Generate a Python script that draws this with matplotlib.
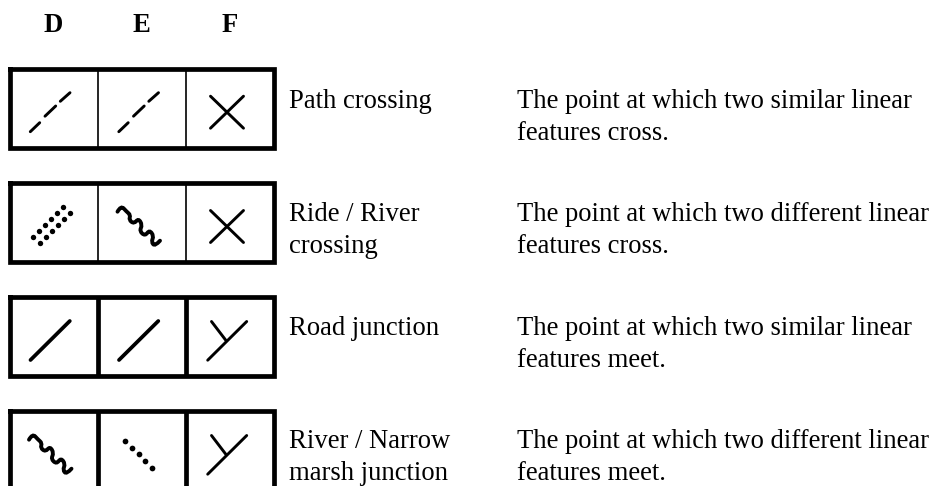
"""
plot.py
-------
Table of crossing / junction map symbols, drawn in pixel coordinates.
"""
import matplotlib
matplotlib.use("Agg")
import matplotlib.pyplot as plt
from matplotlib.path import Path
from matplotlib.patches import PathPatch

W, H = 935, 486
FONT = "Liberation Serif"
FONTSIZE = 19.2
LINE_GAP = 32.3

COLUMNS = ["D", "E", "F"]
COLUMN_X = [53, 141.7, 230]
NAMES = [["Path crossing"], ["Ride / River", "crossing"], ["Road junction"],
         ["River / Narrow", "marsh junction"]]
DESCRIPTIONS = [
    ["The point at which two similar linear", "features cross."],
    ["The point at which two different linear", "features cross."],
    ["The point at which two similar linear", "features meet."],
    ["The point at which two different linear", "features meet."],
]
SYMBOLS = [
    ["dash", "dash", "cross"],
    ["double_dots", "wave", "cross"],
    ["line", "line", "fork"],
    ["wave", "dots", "fork"],
]
ROW_TOPS = [66.7, 181, 295, 409]
BASELINES = [107.7, 221, 334.5, 448]
DIVIDERS = [[97.7, 185.7], [97.7, 185.7], [97.5, 186.3], [97.5, 186.3]]
DIVIDER_LW = [1.2, 1.2, 3.4, 3.4]
CELL_X = [50, 138.5, 227]

# all symbol shapes below are relative to the cell centre, in pixels
DASHES = [(-19.7, 19.5, -10.3, 10.5), (-5, 4, 5.7, -6.2), (10.3, -10.9, 20, -19.5)]
WAVE = [(-21, -14.8), (-17.5, -21), (-12, -15), (-8, -11.5), (-9.5, -6.5), (-4.5, -2.8),
        (0, -8), (3.8, -1.5), (1, 4.5), (6.5, 9.5), (11, 3.5), (15.3, 9.5), (12.8, 15.5),
        (16.5, 19.8), (21.5, 14.2)]
DOTS_X = [-13.5, -6.5, 0.5, 6.8, 13.8]
DOTS_Y = [-13.8, -6.8, -0.2, 6.5, 13.5]
DOUBLE_A_X = [-16.7, -10.7, -4.7, 1.3, 7.3, 13.3]
DOUBLE_A_Y = [10.2, 4.2, -1.8, -7.8, -13.5, -19.2]
DOUBLE_B_X = [-9.7, -3.7, 2, 8, 14, 19.7]
DOUBLE_B_Y = [16.5, 10.5, 4.5, -1.5, -7.5, -13.2]


def draw_line(ax, x0, y0, x1, y1, lw):
    ax.plot([x0, x1], [y0, y1], color="black", lw=lw, solid_capstyle="round")


def draw_symbol(ax, kind, cx, cy):
    if kind == "dash":
        for x0, y0, x1, y1 in DASHES:
            draw_line(ax, cx + x0, cy + y0, cx + x1, cy + y1, 2.1)
    elif kind == "line":
        draw_line(ax, cx - 19.5, cy + 19.5, cx + 19.8, cy - 19.5, 2.7)
    elif kind == "cross":
        draw_line(ax, cx - 16.5, cy - 16, cx + 16.5, cy + 16, 2.1)
        draw_line(ax, cx - 16.5, cy + 16, cx + 16.5, cy - 16, 2.1)
    elif kind == "fork":
        draw_line(ax, cx - 19.3, cy + 19.7, cx + 19.7, cy - 19, 2.1)
        draw_line(ax, cx - 15.5, cy - 19, cx - 1, cy + 0, 2.1)
    elif kind == "dots":
        ax.scatter([cx + x for x in DOTS_X], [cy + y for y in DOTS_Y],
                   s=17, color="black", lw=0)
    elif kind == "double_dots":
        ax.scatter([cx + x for x in DOUBLE_A_X], [cy + y for y in DOUBLE_A_Y],
                   s=15, color="black", lw=0)
        ax.scatter([cx + x for x in DOUBLE_B_X], [cy + y for y in DOUBLE_B_Y],
                   s=15, color="black", lw=0)
    elif kind == "wave":
        pts = [(cx + x, cy + y) for x, y in WAVE]
        verts, codes = [pts[0]], [Path.MOVETO]
        for j in range(1, len(pts) - 1):
            end = pts[j + 1] if j == len(pts) - 2 else (
                (pts[j][0] + pts[j + 1][0]) / 2, (pts[j][1] + pts[j + 1][1]) / 2)
            verts += [pts[j], end]
            codes += [Path.CURVE3, Path.CURVE3]
        ax.add_patch(PathPatch(Path(verts, codes), fc="none", ec="black", lw=2.8,
                               capstyle="round"))


fig = plt.figure(figsize=(W / 100, H / 100), dpi=100)
ax = fig.add_axes([0, 0, 1, 1])
ax.set_xlim(0, W)
ax.set_ylim(H, 0)
ax.axis("off")

for label, x in zip(COLUMNS, COLUMN_X):
    ax.text(x, 31.5, label, family=FONT, fontweight="bold", fontsize=FONTSIZE,
            ha="center", va="baseline")

for i, top in enumerate(ROW_TOPS):
    y0, y1 = top + 2.4, top + 81.4
    for d in DIVIDERS[i]:
        ax.plot([d, d], [y0, y1], color="black", lw=DIVIDER_LW[i], solid_capstyle="butt")
    ax.plot([9.6, 274.4, 274.4, 9.6, 9.6], [y0, y0, y1, y1, y0], color="black", lw=3.4,
            solid_joinstyle="miter", solid_capstyle="projecting")
    cy = top + 45.5
    for kind, cx in zip(SYMBOLS[i], CELL_X):
        draw_symbol(ax, kind, cx, cy)
    for k, line in enumerate(NAMES[i]):
        ax.text(289, BASELINES[i] + k * LINE_GAP, line, family=FONT, fontsize=FONTSIZE,
                va="baseline")
    for k, line in enumerate(DESCRIPTIONS[i]):
        ax.text(517, BASELINES[i] + k * LINE_GAP, line, family=FONT, fontsize=FONTSIZE,
                va="baseline")

fig.savefig("out.png", dpi=100, facecolor="white")
